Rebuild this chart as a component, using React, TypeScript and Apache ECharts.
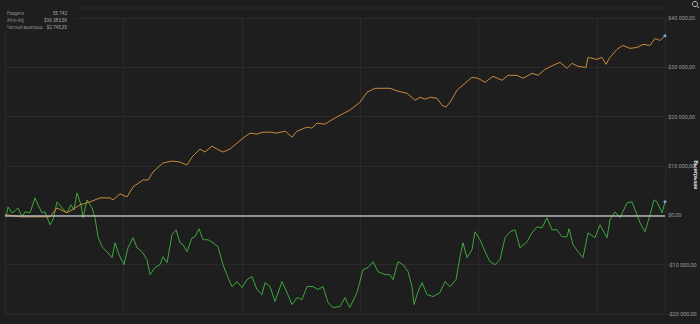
import React, { useEffect, useRef } from "react";
import * as echarts from "echarts";

// Hands played (x) and winnings (y)
const allInHands = [0, 169, 1267, 2534, 3801, 4392, 5237, 6335, 7179, 8024, 8868, 9122, 9713, 10304, 10811, 11655, 12078, 12500, 13345, 14105, 14781, 15372, 15794, 16470, 16892, 17483, 17906, 18412, 19004, 19595, 20101, 20693, 21284, 21791, 22382, 22973, 23649, 24240, 24663, 25507, 25929, 26352, 27027, 27703, 28294, 29119, 29983, 30575, 31250, 31926, 32517, 33193, 33953, 34629, 35051, 35473, 35896, 36487, 36909, 37247, 37585, 38176, 38852, 39443, 39950, 40541, 41216, 41977, 42483, 43244, 43750, 44510, 45017, 45608, 46284, 46875, 47467, 47889, 48396, 49071, 49240, 50000, 50418, 50755, 51092, 51684, 52190, 52788, 53379, 53885, 54476, 54898, 55321, 55742];
const allInValues = [0, 100, -300, -300, -300, 1515, 505, 2121, 2727, 3535, 3535, 3131, 4343, 3737, 5757, 7171, 7171, 8787, 10605, 11009, 10807, 10201, 11817, 13433, 12827, 14039, 13433, 12827, 13433, 14645, 15655, 16665, 16463, 16867, 16867, 16665, 17069, 15857, 17069, 17877, 17675, 18685, 18483, 19493, 20301, 21311, 22927, 24947, 25755, 25755, 25755, 25149, 24745, 23331, 23937, 23533, 23937, 23735, 22321, 21917, 22927, 25351, 26765, 27977, 27775, 26967, 28179, 27371, 28381, 28381, 27775, 28785, 28381, 29593, 30401, 31007, 29795, 30805, 30199, 29997, 32017, 31613, 32017, 30603, 32017, 33633, 34441, 33835, 34037, 34643, 34441, 35855, 35451, 36384];

const netHands = [0, 169, 253, 591, 845, 1098, 1436, 1689, 2112, 2534, 2787, 3125, 3378, 3801, 4054, 4392, 4814, 5237, 5574, 5828, 6081, 6419, 6588, 6926, 7348, 7601, 7855, 8193, 8615, 9038, 9291, 9629, 10051, 10389, 10811, 11149, 11571, 11993, 12247, 12669, 13091, 13345, 13683, 14105, 14443, 14781, 15034, 15372, 15794, 16047, 16385, 16723, 17145, 17568, 17990, 18412, 18835, 19172, 19595, 20017, 20439, 20862, 21284, 21706, 21960, 22382, 22804, 23395, 23818, 24240, 24663, 25085, 25507, 26014, 26436, 26858, 27281, 27703, 28294, 28716, 29119, 29730, 30237, 30659, 31081, 31504, 32095, 32517, 32770, 33193, 33615, 34037, 34375, 34544, 34882, 35220, 35642, 36149, 36740, 37163, 37585, 38092, 38429, 38683, 39021, 39443, 39696, 40119, 40541, 40963, 41386, 41808, 42230, 42652, 43075, 43497, 44088, 44510, 44933, 45355, 45777, 46200, 46622, 47044, 47467, 47635, 47973, 48396, 48818, 49240, 49831, 50254, 50845, 51098, 51520, 51943, 52534, 52956, 53379, 53632, 54054, 54476, 54814, 55067, 55490, 55742];
const netValues = [0, 505, 1717, 505, 909, 1515, -303, 707, 505, 3535, 2121, 505, 707, -1919, -909, 2727, 1515, 505, 2121, 1111, 4545, 2121, -505, 3131, 1515, -505, -4343, -6363, -7373, -8585, -5555, -7979, -9999, -6565, -4545, -6565, -7373, -8989, -12019, -10605, -9999, -8383, -9595, -3939, -2929, -5555, -5959, -7373, -4545, -4343, -2727, -4949, -4949, -5555, -6363, -9999, -12625, -14443, -13433, -14645, -13029, -12423, -15049, -16059, -13635, -14443, -17473, -13433, -15655, -18079, -16665, -17069, -14443, -14443, -15049, -14443, -17675, -18685, -18483, -16665, -18685, -15655, -11009, -10605, -9393, -11413, -12019, -12019, -13029, -9393, -9999, -11413, -14443, -18079, -15453, -13635, -16059, -16463, -15655, -13433, -14443, -13029, -8383, -5555, -8585, -6969, -3333, -4949, -7373, -9393, -9999, -8989, -4545, -3333, -2929, -6565, -5353, -3535, -2323, -2525, -505, -2929, -2929, -4343, -4343, -2727, -5959, -7373, -8585, -3535, -4545, -1919, -4545, -909, 707, -505, 2525, 2727, 101, -1515, -3333, 101, 3131, 2727, 505, 2745];

const yTicks = { min: -20000, max: 40000, interval: 10000 };
const yAxisTitle = "Выигрыши";
const statLabels = ["Раздачи", "All-in Adj", "Чистый выигрыш"];
const statValues = ["55 742", "$36 383,59", "$2 745,35"];

const BG = "#1e1e1e";
const GRID = "#2a2a2a";
const FONT = "Roboto, 'Noto Sans', sans-serif";

function money(v: number): string {
  const a = Math.abs(v);
  const s = String(Math.round(a)).replace(/\B(?=(\d{3})+(?!\d))/g, " ");
  return (v < 0 ? "-" : "") + "$" + s + ",00";
}

export default function App() {
  const ref = useRef<HTMLDivElement>(null);
  useEffect(() => {
    document.body.style.margin = "0";
    if (!ref.current) return;
    const chart = echarts.init(ref.current, undefined, { renderer: "svg" });
    const allIn = allInHands.map((h, i) => [h, allInValues[i]]);
    const net = netHands.map((h, i) => [h, netValues[i]]);
    const lastA = allIn[allIn.length - 1];
    const lastN = net[net.length - 1];
    const statGraphics: any[] = [
      { type: "rect", left: 0, top: 0, shape: { width: 76, height: 32 }, style: { fill: BG }, z: 100 },
      { type: "line", shape: { x1: 76, y1: 8, x2: 665, y2: 8 }, style: { stroke: GRID, lineWidth: 1 }, z: 1 },
      { type: "circle", shape: { cx: 695, cy: 4, r: 2.6 }, style: { fill: "none", stroke: "#bbbbbb", lineWidth: 1 }, z: 100 },
      { type: "line", shape: { x1: 697, y1: 6, x2: 699, y2: 8 }, style: { stroke: "#bbbbbb", lineWidth: 1 }, z: 100 },
      {
        type: "text", x: 696, y: 175, rotation: -Math.PI / 2, z: 101,
        style: { text: yAxisTitle, fill: "#dcdcdc", font: `bold 5.5px ${FONT}`, align: "center", verticalAlign: "middle" },
      },
    ];
    statLabels.forEach((l, i) => {
      statGraphics.push({
        type: "text", x: 7, y: 10 + i * 7, z: 101, scaleX: 0.78,
        style: { text: l, fill: "#8c8c8c", font: `5.5px ${FONT}`, align: "left", verticalAlign: "top" },
      });
      statGraphics.push({
        type: "text", x: 67, y: 10 + i * 7, z: 101, scaleX: 0.85,
        style: { text: statValues[i], fill: "#a8a8a8", font: `5.5px ${FONT}`, align: "right", verticalAlign: "top" },
      });
    });
    chart.setOption({
      animation: false,
      backgroundColor: BG,
      grid: { left: 5, right: 35, top: 18, bottom: 10, containLabel: false, outerBoundsMode: "none" },
      xAxis: {
        type: "value", min: 0, max: 55742, interval: 10000,
        axisLine: { show: false }, axisTick: { show: false }, axisLabel: { show: false },
        splitLine: { show: true, lineStyle: { color: GRID, width: 1 } },
      },
      yAxis: {
        type: "value", position: "right", ...yTicks,
        axisLine: { show: false }, axisTick: { show: false },
        axisLabel: { color: "#9a9a9a", fontSize: 5.5, fontFamily: FONT, margin: 3, formatter: (v: number) => money(v) },
        splitLine: { show: true, lineStyle: { color: GRID, width: 1 } },
      },
      series: [
        {
          type: "line", data: allIn, showSymbol: false, symbol: "none",
          lineStyle: { color: "#c98a3e", width: 1 }, z: 3,
          markPoint: { symbol: "circle", symbolSize: 3, itemStyle: { color: "#79a9d6" }, label: { show: false }, silent: true, data: [{ coord: lastA }] },
        },
        {
          type: "line", data: net, showSymbol: false, symbol: "none",
          lineStyle: { color: "#3da83d", width: 1 }, z: 2,
          markLine: {
            silent: true, symbol: "none", label: { show: false },
            lineStyle: { color: "#b8b8b8", width: 1.5, type: "solid" },
            data: [{ yAxis: 0 }],
          },
          markPoint: { symbol: "circle", symbolSize: 3, itemStyle: { color: "#79a9d6" }, label: { show: false }, silent: true, data: [{ coord: lastN }] },
        },
      ],
      graphic: statGraphics,
    });
    return () => chart.dispose();
  }, []);
  return <div ref={ref} style={{ width: 700, height: 324 }} />;
}
